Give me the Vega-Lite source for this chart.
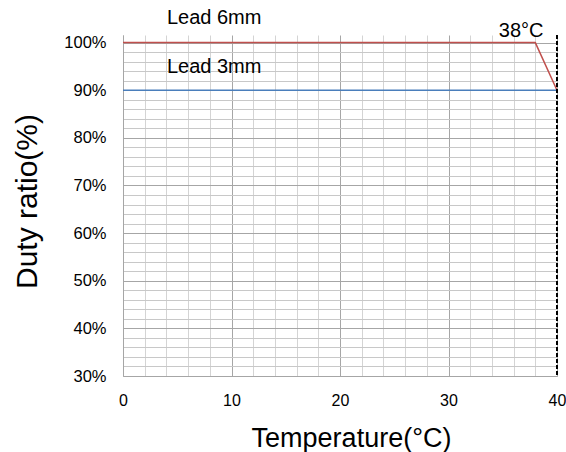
{
  "$schema": "https://vega.github.io/schema/vega-lite/v6.json",
  "width": 434,
  "height": 341,
  "autosize": {"type": "none"},
  "padding": {"left": 123, "top": 35, "right": 9, "bottom": 76},
  "background": "white",
  "config": {"view": {"stroke": null}},
  "datasets": {
    "lines": [
      {"series": "Lead 6mm", "temp": 0, "duty": 100},
      {"series": "Lead 6mm", "temp": 38, "duty": 100},
      {"series": "Lead 6mm", "temp": 40, "duty": 90},
      {"series": "Lead 3mm", "temp": 0, "duty": 90},
      {"series": "Lead 3mm", "temp": 40, "duty": 90}
    ],
    "labels": [
      {"label": "Lead 6mm", "temp": 8.4, "duty": 105.2},
      {"label": "Lead 3mm", "temp": 8.4, "duty": 94.9},
      {"label": "38°C", "temp": 36.7, "duty": 102.4}
    ],
    "limit": [{"temp": 40}]
  },
  "layer": [
    {
      "data": {"name": "lines"},
      "mark": {"type": "line", "strokeWidth": 1.5, "clip": false},
      "encoding": {
        "x": {
          "field": "temp", "type": "quantitative",
          "scale": {"domain": [0, 40], "nice": false},
          "axis": {
            "values": [0, 2, 4, 6, 8, 10, 12, 14, 16, 18, 20, 22, 24, 26, 28, 30, 32, 34, 36, 38, 40],
            "tickCount": 100,
            "labelExpr": "datum.value % 10 === 0 ? '' + datum.value : ''",
            "grid": true,
            "gridColor": {"condition": {"test": "datum.value % 10 === 0", "value": "#a6a6a6"}, "value": "#d4d4d4"},
            "gridWidth": 1,
            "ticks": false,
            "domain": true,
            "domainColor": "#a6a6a6",
            "labelPadding": 16,
            "labelFont": "Liberation Sans",
            "labelFontSize": 16,
            "labelColor": "#000000",
            "labelFlush": false,
            "labelOverlap": false,
            "title": "Temperature(°C)",
            "titleFont": "Liberation Sans",
            "titleFontSize": 27,
            "titleFontWeight": "normal",
            "titleColor": "#000000",
            "titleX": 228,
            "titleY": 70,
            "titleBaseline": "alphabetic"
          }
        },
        "y": {
          "field": "duty", "type": "quantitative",
          "scale": {"domain": [30, 101.6], "nice": false, "zero": false},
          "axis": {
            "values": [30, 32, 34, 36, 38, 40, 42, 44, 46, 48, 50, 52, 54, 56, 58, 60, 62, 64, 66, 68, 70, 72, 74, 76, 78, 80, 82, 84, 86, 88, 90, 92, 94, 96, 98, 100],
            "tickCount": 100,
            "labelExpr": "datum.value % 10 === 0 ? datum.value + '%' : ''",
            "grid": true,
            "gridColor": {"condition": {"test": "datum.value % 10 === 0", "value": "#a6a6a6"}, "value": "#c8c8c8"},
            "ticks": false,
            "domain": true,
            "domainColor": "#a6a6a6",
            "labelPadding": 17,
            "labelFont": "Liberation Sans",
            "labelFontSize": 16.5,
            "labelColor": "#000000",
            "labelOverlap": false,
            "title": "Duty ratio(%)",
            "titleFont": "Liberation Sans",
            "titleFontSize": 30,
            "titleFontWeight": "normal",
            "titleColor": "#000000",
            "titleX": -87,
            "titleY": 166,
            "titleAngle": -90,
            "titleBaseline": "alphabetic"
          }
        },
        "color": {
          "field": "series", "type": "nominal",
          "scale": {"domain": ["Lead 6mm", "Lead 3mm"], "range": ["#c0504d", "#4a7ebb"]},
          "legend": null
        },
        "detail": {"field": "series"}
      }
    },
    {
      "data": {"name": "limit"},
      "mark": {"type": "rule", "color": "#000000", "strokeWidth": 2, "strokeDash": [4, 2], "clip": false},
      "encoding": {
        "x": {"field": "temp", "type": "quantitative"}
      }
    },
    {
      "data": {"name": "labels"},
      "mark": {"type": "text", "font": "Liberation Sans", "fontSize": 20, "align": "center", "baseline": "middle", "color": "#000000", "clip": false},
      "encoding": {
        "x": {"field": "temp", "type": "quantitative"},
        "y": {"field": "duty", "type": "quantitative"},
        "text": {"field": "label"}
      }
    }
  ]
}
